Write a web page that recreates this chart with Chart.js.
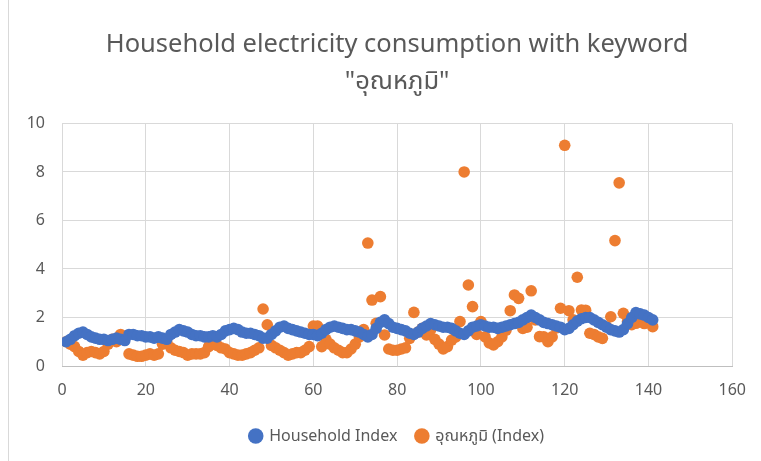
<!DOCTYPE html>
<html>
<head>
<meta charset="utf-8">
<script src="https://cdn.jsdelivr.net/npm/chart.js@4"></script>
<style>
  html, body { margin: 0; padding: 0; background: #ffffff; }
  #wrap { position: relative; width: 761px; height: 461px; }
  #frame { position: absolute; left: 8px; top: 0; width: 1px; height: 461px; background: #d9d9d9; }
</style>
</head>
<body>
<div id="wrap">
  <canvas id="myChart" width="761" height="461"></canvas>
  <div id="frame"></div>
</div>
<script>
const titleLines = ["Household electricity consumption with keyword", "\"อุณหภูมิ\""];
const seriesNames = ["Household Index", "อุณหภูมิ (Index)"];

// Household index, one value per step starting at x = 1
const householdIndex = [
  1.0, 1.1, 1.25, 1.35, 1.4, 1.3, 1.2, 1.15, 1.1, 1.1,
  1.05, 1.1, 1.15, 1.1, 1.05, 1.3, 1.3, 1.25, 1.25, 1.2,
  1.2, 1.15, 1.2, 1.15, 1.1, 1.3, 1.4, 1.5, 1.45, 1.4,
  1.3, 1.25, 1.25, 1.2, 1.2, 1.25, 1.2, 1.3, 1.45, 1.5,
  1.55, 1.5, 1.4, 1.35, 1.35, 1.3, 1.25, 1.15, 1.15, 1.3,
  1.45, 1.6, 1.65, 1.55, 1.5, 1.45, 1.4, 1.35, 1.3, 1.3,
  1.25, 1.35, 1.5, 1.6, 1.65, 1.6, 1.55, 1.5, 1.5, 1.45,
  1.4, 1.3, 1.2, 1.3, 1.55, 1.8, 1.9, 1.75, 1.6, 1.55,
  1.5, 1.45, 1.35, 1.3, 1.4, 1.55, 1.65, 1.75, 1.7, 1.65,
  1.6, 1.6, 1.55, 1.45, 1.35, 1.3, 1.45, 1.6, 1.65, 1.7,
  1.65, 1.6, 1.6, 1.55, 1.6, 1.65, 1.7, 1.75, 1.8, 1.9,
  2.0, 2.1, 2.0, 1.9, 1.8, 1.75, 1.7, 1.65, 1.6, 1.5,
  1.55, 1.7, 1.85, 1.95, 2.0, 2.0, 1.9, 1.8, 1.7, 1.6,
  1.5, 1.45, 1.4, 1.5, 1.75, 2.0, 2.2, 2.15, 2.1, 2.0, 1.9
];

// keyword search index, same steps
const keywordIndex = [
  1.0, 0.9, 0.8, 0.6, 0.45, 0.55, 0.6, 0.55, 0.5, 0.6,
  0.9, 1.1, 1.0, 1.3, 1.2, 0.5, 0.45, 0.4, 0.4, 0.45,
  0.5, 0.45, 0.5, 0.9, 1.0, 0.75, 0.65, 0.6, 0.55, 0.45,
  0.5, 0.5, 0.5, 0.55, 0.8, 1.0, 0.85, 0.75, 0.7, 0.55,
  0.5, 0.45, 0.45, 0.5, 0.55, 0.65, 0.75, 2.35, 1.7, 0.85,
  0.75, 0.65, 0.55, 0.45, 0.5, 0.55, 0.55, 0.65, 0.8, 1.65,
  1.65, 0.8, 1.1, 0.9, 0.75, 0.65, 0.55, 0.55, 0.7, 0.9,
  1.2, 1.5, 5.07, 2.72, 1.76, 2.86, 1.28, 0.7, 0.65, 0.65,
  0.7, 0.75, 1.14, 2.21, 1.4, 1.55, 1.28, 1.5, 1.1, 0.9,
  0.7, 0.8, 1.07, 1.2, 1.83, 8.0, 3.34, 2.45, 1.3, 1.83,
  1.2, 0.95, 0.87, 1.0, 1.2, 1.48, 2.28, 2.93, 2.79, 1.55,
  1.6, 3.1, 1.9, 1.21, 1.2, 1.0, 1.2, 1.57, 2.38, 9.1,
  2.28, 1.9, 3.66, 2.31, 2.3, 1.35, 1.3, 1.2, 1.14, 1.62,
  2.03, 5.17, 7.55, 2.17, 1.83, 1.7, 1.76, 1.85, 1.75, 1.97, 1.62
];

const xTicks = [0, 20, 40, 60, 80, 100, 120, 140, 160];
const yTicks = [0, 2, 4, 6, 8, 10];

const fontFamily = "'Noto Sans', 'Noto Sans Thai', 'DejaVu Sans', sans-serif";
const textColor = "#595959";
const gridColor = "#d9d9d9";

function toPoints(values) {
  return values.map((v, i) => ({ x: i + 1, y: v }));
}

function main() {
  const ctx = document.getElementById("myChart").getContext("2d");
  new Chart(ctx, {
    type: "scatter",
    data: {
      datasets: [
        {
          label: seriesNames[0],
          data: toPoints(householdIndex),
          backgroundColor: "#4472C4",
          borderColor: "#4472C4",
          pointRadius: 5.8,
          borderWidth: 0,
        },
        {
          label: seriesNames[1],
          data: toPoints(keywordIndex),
          backgroundColor: "#ED7D31",
          borderColor: "#ED7D31",
          pointRadius: 5.8,
          borderWidth: 0,
        },
      ],
    },
    options: {
      responsive: false,
      animation: false,
      layout: { padding: { left: 0, right: 28, top: 0, bottom: 7 } },
      plugins: {
        // title and legend sit over the plot area only, not the full canvas
        title: {
          display: true,
          fullSize: false,
          text: titleLines,
          color: textColor,
          font: { family: fontFamily, size: 25.5, weight: "normal", lineHeight: 1.45 },
          padding: { top: 26, bottom: 23.5 },
        },
        legend: {
          position: "bottom",
          fullSize: false,
          labels: {
            usePointStyle: true,
            pointStyle: "circle",
            boxWidth: 11,
            boxHeight: 11,
            padding: 19,
            color: textColor,
            font: { family: fontFamily, size: 16 },
          },
        },
        tooltip: { enabled: false },
      },
      scales: {
        x: {
          type: "linear",
          min: 0,
          max: 160,
          afterBuildTicks: (scale) => {
            scale.ticks = xTicks.map((v) => ({ value: v }));
          },
          afterFit: (scale) => {
            scale.height = 43;
          },
          grid: { color: gridColor, drawTicks: false },
          border: { color: "#bfbfbf" },
          ticks: { color: textColor, padding: 15, font: { family: fontFamily, size: 16 } },
        },
        y: {
          min: 0,
          max: 10,
          afterBuildTicks: (scale) => {
            scale.ticks = yTicks.map((v) => ({ value: v }));
          },
          afterFit: (scale) => {
            scale.width = 62;
          },
          grid: { color: gridColor, drawTicks: false },
          border: { display: false },
          ticks: { color: textColor, padding: 17, font: { family: fontFamily, size: 16 } },
        },
      },
    },
  });
}

document.addEventListener("DOMContentLoaded", main);
</script>
</body>
</html>
